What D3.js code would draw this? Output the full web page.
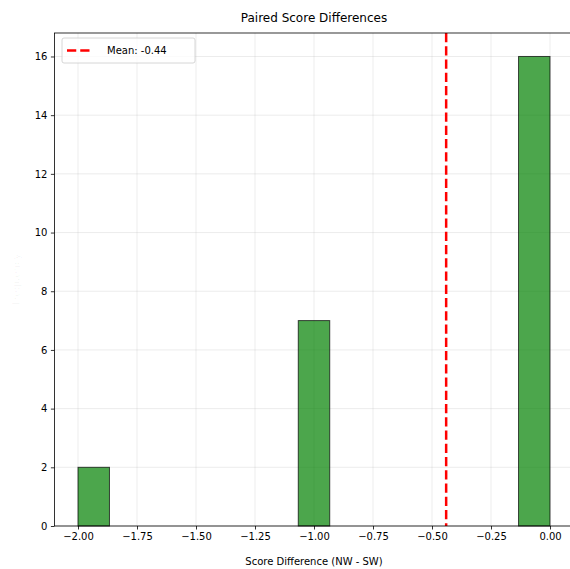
<!DOCTYPE html>
<html>
<head>
<meta charset="utf-8">
<title>Paired Score Differences</title>
<script src="https://d3js.org/d3.v7.min.js"></script>
<style>
  body { margin: 0; background: #fff; }
  text { font-family: "DejaVu Sans", sans-serif; }
</style>
</head>
<body>
<script>
// histogram: 15 bins between -2 and 0
var binStart = -2.0;
var binEnd = 0.0;
var counts = [2, 0, 0, 0, 0, 0, 0, 7, 0, 0, 0, 0, 0, 0, 16];
var meanDiff = -0.44;
var xTicks = [-2.0, -1.75, -1.5, -1.25, -1.0, -0.75, -0.5, -0.25, 0.0];
var yTicks = [0, 2, 4, 6, 8, 10, 12, 14, 16];

var w = 570, h = 569;
var svg = d3.select("body").append("svg")
  .attr("width", w).attr("height", h);

var x = d3.scaleLinear().domain([-2.1, 0.1]).range([54.4, 573.6]);
var y = d3.scaleLinear().domain([0, 16.8]).range([526, 33]);

var binW = (binEnd - binStart) / counts.length;
var bins = counts.map(function(c, i){
  return {x0: binStart + i * binW, x1: binStart + (i + 1) * binW, n: c};
});

// grid
svg.append("g").selectAll("line.gx")
  .data(xTicks).enter().append("line")
  .attr("x1", function(d){ return x(d) }).attr("x2", function(d){ return x(d) })
  .attr("y1", y(16.8)).attr("y2", y(0))
  .attr("stroke", "#b0b0b0").attr("stroke-opacity", 0.3).attr("stroke-width", 0.8);
svg.append("g").selectAll("line.gy")
  .data(yTicks).enter().append("line")
  .attr("x1", x(-2.1)).attr("x2", x(0.1))
  .attr("y1", function(d){ return y(d) }).attr("y2", function(d){ return y(d) })
  .attr("stroke", "#b0b0b0").attr("stroke-opacity", 0.3).attr("stroke-width", 0.8);

// bars
svg.append("g").selectAll("rect")
  .data(bins.filter(function(b){ return b.n > 0 }))
  .enter().append("rect")
  .attr("x", function(d){ return x(d.x0) })
  .attr("y", function(d){ return y(d.n) })
  .attr("width", function(d){ return x(d.x1) - x(d.x0) })
  .attr("height", function(d){ return y(0) - y(d.n) })
  .attr("fill", "green").attr("fill-opacity", 0.7)
  .attr("stroke", "black").attr("stroke-opacity", 0.7).attr("stroke-width", 1);

// mean line
svg.append("line")
  .attr("x1", x(meanDiff)).attr("x2", x(meanDiff))
  .attr("y1", y(16.8)).attr("y2", y(0))
  .attr("stroke", "red").attr("stroke-width", 2.5)
  .attr("stroke-dasharray", "9.25,4");

// axes
var xAxis = d3.axisBottom(x).tickValues(xTicks).tickSize(3.5).tickPadding(3.5)
  .tickFormat(function(d){ return d3.format(".2f")(d).replace("-", "\u2212") });
var gx = svg.append("g").attr("transform", "translate(0," + y(0) + ")").call(xAxis);
var yAxis = d3.axisLeft(y).tickValues(yTicks).tickSize(3.5).tickPadding(3.5);
var gy = svg.append("g").attr("transform", "translate(" + x(-2.1) + ",0)").call(yAxis);
[gx, gy].forEach(function(g){
  g.select(".domain").remove();
  g.selectAll("line").attr("stroke", "#000").attr("stroke-width", 0.8);
  g.selectAll("text").attr("font-size", "10px").attr("fill", "#000")
    .attr("font-family", "DejaVu Sans, sans-serif");
});

// spines
svg.append("rect")
  .attr("x", x(-2.1)).attr("y", y(16.8))
  .attr("width", x(0.1) - x(-2.1)).attr("height", y(0) - y(16.8))
  .attr("fill", "none").attr("stroke", "#000").attr("stroke-width", 0.8);

// texts
svg.append("text").text("Paired Score Differences")
  .attr("x", (x(-2.1) + x(0.1)) / 2).attr("y", 22)
  .attr("text-anchor", "middle").attr("font-size", "12px");
svg.append("text").text("Score Difference (NW - SW)")
  .attr("x", (x(-2.1) + x(0.1)) / 2).attr("y", 565)
  .attr("text-anchor", "middle").attr("font-size", "10px");
// y label is almost invisible in the reference
svg.append("text").text("Frequency")
  .attr("transform", "translate(20," + (y(0) + y(16.8)) / 2 + ") rotate(-90)")
  .attr("text-anchor", "middle").attr("font-size", "10px")
  .attr("fill", "#000").attr("fill-opacity", 0.04);

// legend
var lg = svg.append("g").attr("transform", "translate(62,38)");
lg.append("rect").attr("width", 133).attr("height", 25).attr("rx", 2)
  .attr("fill", "#fff").attr("fill-opacity", 0.8)
  .attr("stroke", "#cccccc").attr("stroke-width", 0.8);
lg.append("line").attr("x1", 5).attr("x2", 30).attr("y1", 12.5).attr("y2", 12.5)
  .attr("stroke", "red").attr("stroke-width", 2.5).attr("stroke-dasharray", "9.25,4");
lg.append("text").text("Mean: -0.44").attr("x", 45).attr("y", 16)
  .attr("font-size", "10px");
</script>
</body>
</html>
